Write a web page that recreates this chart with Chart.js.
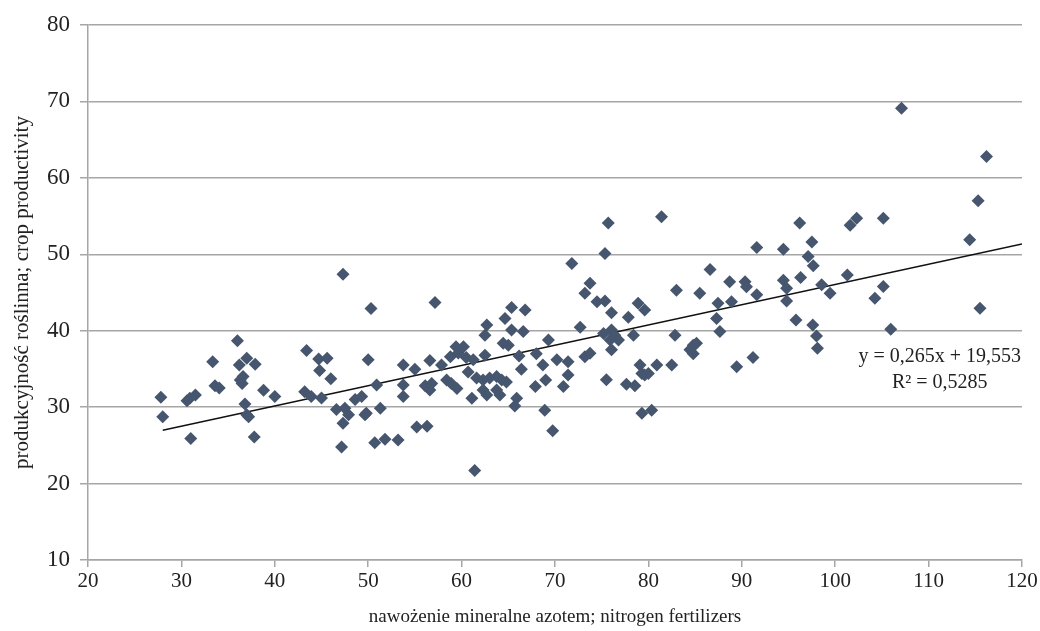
<!DOCTYPE html>
<html>
<head>
<meta charset="utf-8">
<script src="https://cdn.jsdelivr.net/npm/chart.js@4/dist/chart.umd.min.js"></script>
<style>
  body { margin: 0; background: #fff; }
  #wrap { width: 1040px; height: 631px; }
</style>
</head>
<body>
<div id="wrap"><canvas id="myChart" width="1040" height="631"></canvas></div>
<script>
// nitrogen fertilizers (x) vs crop productivity (y)
let nitrogen = [
  27.8, 28.0, 31.0, 30.6, 30.9, 31.5, 33.35, 33.6, 34.05, 36.0,
  36.2, 37.0, 37.9, 36.3, 36.6, 36.5, 36.8, 37.0, 37.2, 37.8,
  38.8, 40.0, 43.4, 44.7, 45.6, 44.8, 46.0, 43.2, 43.9, 45.0,
  46.6, 47.5, 47.9, 47.3, 47.15, 48.6, 47.3,
  50.3, 57.15, 50.0, 49.3, 49.65, 49.8, 51.3, 50.9, 50.7, 51.8,
  53.2, 53.75, 55.0, 53.75, 53.75, 55.2, 56.3, 56.6, 56.1, 56.6,
  56.8, 57.85, 58.8, 59.4, 60.2, 59.65, 60.5, 58.4, 58.9, 59.5,
  61.25, 60.7, 61.6, 61.1, 62.5, 62.7, 62.5, 64.65, 65.35, 66.8,
  65.35, 66.6, 64.45, 65.0, 66.15, 66.4, 62.3, 63.0, 63.75, 64.3,
  64.8, 62.3, 62.7, 63.75, 64.1, 65.9, 65.7, 61.4, 68.9, 69.75,
  67.9, 69.0, 70.9, 68.7, 70.2, 68.0, 69.3, 71.4, 71.4,
  75.35, 71.8, 91.6, 86.6, 73.75, 73.2, 74.5, 75.35, 76.05, 78.9,
  79.6, 77.85, 72.7, 75.2, 76.05, 76.4, 75.9, 76.8, 76.05, 78.4,
  83.0, 85.5, 88.7, 90.35, 90.5, 91.6, 87.45, 88.9, 87.3, 87.65,
  82.85, 84.45, 84.8, 85.15, 84.8, 73.2, 73.75, 75.5, 77.65, 78.55,
  79.1, 79.3, 79.6, 80.0, 80.9, 82.5, 79.3, 80.35, 89.45, 91.2,
  94.45, 97.5, 114.4, 97.1, 97.65, 94.45, 94.8, 94.8, 96.3, 98.55,
  99.45, 101.3, 105.15, 104.25, 115.5, 95.8, 97.6, 98.0, 98.1, 105.95,
  75.7, 81.4, 107.1, 116.2, 115.3, 96.2, 101.6, 102.3, 105.15
];
let productivity = [
  31.3, 28.75, 25.9, 30.85, 31.15, 31.6, 35.95, 32.8, 32.5, 38.7,
  35.5, 36.4, 35.6, 33.55, 34.0, 33.1, 30.4, 29.0, 28.75, 26.1,
  32.2, 31.4, 37.4, 36.3, 36.4, 34.8, 33.7, 32.0, 31.4, 31.2,
  29.7, 29.85, 29.0, 27.9, 24.8, 31.0, 47.4,
  42.9, 43.7, 36.2, 31.4, 29.0, 29.2, 29.85, 32.9, 25.35, 25.8,
  25.7, 35.5, 34.95, 32.9, 31.4, 27.4, 27.5, 36.1, 32.8, 32.25,
  33.1, 35.5, 36.6, 37.9, 37.9, 37.1, 36.5, 33.55, 33.1, 32.45,
  36.2, 34.6, 33.8, 31.15, 36.8, 40.75, 39.4, 41.6, 43.05, 42.7,
  40.1, 39.9, 38.35, 38.1, 36.7, 34.95, 33.55, 33.8, 34.0, 33.55,
  33.3, 32.25, 31.6, 32.25, 31.6, 31.15, 30.15, 21.7, 29.6, 26.9,
  32.7, 33.55, 32.7, 35.5, 36.2, 37.0, 38.8, 35.95, 34.2,
  50.1, 48.8, 50.9, 48.0, 46.2, 44.9, 43.8, 43.9, 42.35, 43.6,
  42.7, 41.75, 40.45, 39.65, 40.1, 39.4, 38.8, 38.8, 37.5, 39.4,
  45.3, 44.9, 46.4, 46.4, 45.75, 44.7, 43.6, 43.8, 41.6, 39.9,
  39.4, 37.5, 38.1, 38.35, 37.0, 36.6, 37.05, 33.6, 33.0, 32.8,
  35.5, 34.4, 34.2, 34.4, 35.5, 35.5, 29.2, 29.6, 35.3, 36.5,
  50.65, 51.6, 51.9, 49.7, 48.5, 46.6, 45.55, 43.9, 46.95, 46.0,
  44.9, 47.3, 45.8, 44.25, 42.95, 41.4, 40.75, 39.3, 37.7, 40.2,
  54.1, 54.9, 69.1, 62.8, 57.0, 54.1, 53.8, 54.7, 54.7
];

// linear trend shown on the chart
let trendSlope = 0.265;
let trendIntercept = 19.553;
let trendRange = [28, 120];
let trendLabels = ['y = 0,265x + 19,553', 'R\u00b2 = 0,5285'];

let points = nitrogen.map((x, i) => ({ x: x, y: productivity[i] }));
let trend = trendRange.map(x => ({ x: x, y: trendSlope * x + trendIntercept }));

const serif = "'Liberation Serif', 'Times New Roman', serif";
const gridColor = '#a6a6a6';

// draws the equation text near the right end of the trend line
const eqText = {
  id: 'eqText',
  afterDatasetsDraw(chart) {
    const ctx = chart.ctx;
    const xs = chart.scales.x, ys = chart.scales.y;
    ctx.save();
    ctx.fillStyle = '#222';
    ctx.font = '20px ' + serif;
    ctx.textAlign = 'center';
    ctx.textBaseline = 'middle';
    ctx.fillText(trendLabels[0], xs.getPixelForValue(111.2), ys.getPixelForValue(36.6));
    ctx.fillText(trendLabels[1], xs.getPixelForValue(111.2), ys.getPixelForValue(33.2));
    ctx.restore();
  }
};

let myChart = document.getElementById('myChart').getContext('2d');

let chart = new Chart(myChart, {
  type: 'scatter',
  data: {
    datasets: [{
      data: points,
      pointStyle: 'rectRot',
      pointRadius: 6.5,
      pointHoverRadius: 6.5,
      backgroundColor: '#46566f',
      borderColor: '#46566f',
      borderWidth: 0
    }, {
      type: 'line',
      data: trend,
      borderColor: '#111',
      borderWidth: 1.5,
      pointRadius: 0,
      fill: false
    }]
  },
  options: {
    responsive: false,
    animation: false,
    layout: { padding: { top: 25, right: 18, left: 0, bottom: 0 } },
    plugins: {
      legend: { display: false },
      tooltip: { enabled: false }
    },
    scales: {
      x: {
        type: 'linear',
        min: 20,
        max: 120,
        afterFit: s => { s.height = 71; },
        ticks: { stepSize: 10, color: '#222', padding: 2, font: { family: serif, size: 21 } },
        grid: { drawOnChartArea: false, color: gridColor, tickLength: 7, lineWidth: 1.5 },
        border: { color: gridColor, width: 1.5 },
        title: {
          display: true,
          text: 'nawożenie mineralne azotem; nitrogen fertilizers',
          color: '#222',
          font: { family: serif, size: 19 },
          padding: { top: 3, bottom: 3 }
        }
      },
      y: {
        min: 10,
        max: 80,
        afterFit: s => { s.width = 88; },
        ticks: { stepSize: 10, color: '#222', padding: 10, font: { family: serif, size: 23 } },
        grid: { color: gridColor, tickLength: 8, lineWidth: 1.5 },
        border: { color: gridColor, width: 1.5 },
        title: {
          display: true,
          text: 'produkcyjność roślinna; crop productivity',
          color: '#222',
          font: { family: serif, size: 21 },
          padding: { top: 10, bottom: 0 }
        }
      }
    }
  },
  plugins: [eqText]
});
</script>
</body>
</html>
